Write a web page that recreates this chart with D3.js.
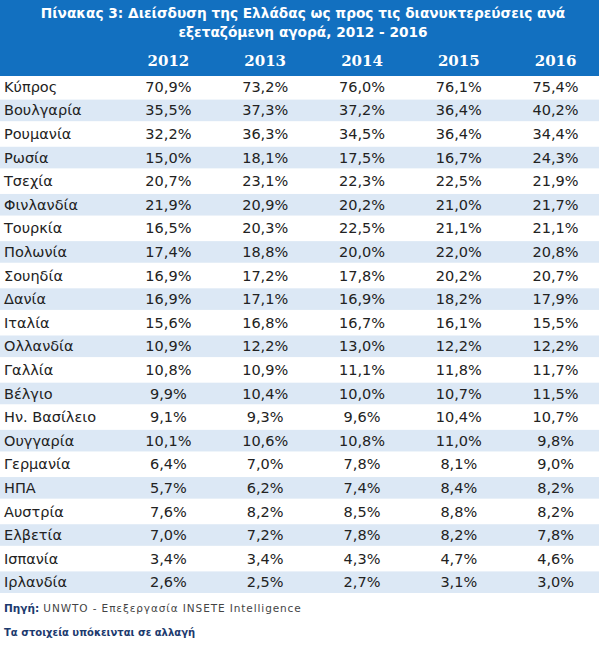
<!DOCTYPE html>
<html lang="el">
<head>
  <meta charset="UTF-8">
  <title>Πίνακας 3</title>
  <script src="https://cdnjs.cloudflare.com/ajax/libs/d3/7.8.5/d3.min.js"></script>
  <style>
    body { margin: 0; background: #fff; }
    svg { display: block; }
  </style>
</head>
<body>
  <script>
    const years = ["2012", "2013", "2014", "2015", "2016"];
    const countries = ["Κύπρος", "Βουλγαρία", "Ρουμανία", "Ρωσία", "Τσεχία", "Φινλανδία",
      "Τουρκία", "Πολωνία", "Σουηδία", "Δανία", "Ιταλία", "Ολλανδία", "Γαλλία", "Βέλγιο",
      "Ην. Βασίλειο", "Ουγγαρία", "Γερμανία", "ΗΠΑ", "Αυστρία", "Ελβετία", "Ισπανία", "Ιρλανδία"];
    const v2012 = [70.9, 35.5, 32.2, 15.0, 20.7, 21.9, 16.5, 17.4, 16.9, 16.9, 15.6, 10.9, 10.8, 9.9, 9.1, 10.1, 6.4, 5.7, 7.6, 7.0, 3.4, 2.6];
    const v2013 = [73.2, 37.3, 36.3, 18.1, 23.1, 20.9, 20.3, 18.8, 17.2, 17.1, 16.8, 12.2, 10.9, 10.4, 9.3, 10.6, 7.0, 6.2, 8.2, 7.2, 3.4, 2.5];
    const v2014 = [76.0, 37.2, 34.5, 17.5, 22.3, 20.2, 22.5, 20.0, 17.8, 16.9, 16.7, 13.0, 11.1, 10.0, 9.6, 10.8, 7.8, 7.4, 8.5, 7.8, 4.3, 2.7];
    const v2015 = [76.1, 36.4, 36.4, 16.7, 22.5, 21.0, 21.1, 22.0, 20.2, 18.2, 16.1, 12.2, 11.8, 10.7, 10.4, 11.0, 8.1, 8.4, 8.8, 8.2, 4.7, 3.1];
    const v2016 = [75.4, 40.2, 34.4, 24.3, 21.9, 21.7, 21.1, 20.8, 20.7, 17.9, 15.5, 12.2, 11.7, 11.5, 10.7, 9.8, 9.0, 8.2, 8.2, 7.8, 4.6, 3.0];
    const series = [v2012, v2013, v2014, v2015, v2016];

    const titleLines = ["Πίνακας 3: Διείσδυση της Ελλάδας ως προς τις διανυκτερεύσεις ανά",
                        "εξεταζόμενη αγορά, 2012 - 2016"];

    const w = 603, h = 650;
    const blue = "#1270c0";
    const light = "#dce8f5";

    const x = d3.scaleBand().domain(years).range([120, 604]);
    const y = d3.scaleBand().domain(countries).range([76, 595]);
    const fmt = v => v.toFixed(1).replace(".", ",") + "%";

    const svg = d3.select("body").append("svg")
      .attr("width", w)
      .attr("height", h);

    // header
    svg.append("rect")
      .attr("x", 0).attr("y", 0)
      .attr("width", 599).attr("height", 76)
      .attr("fill", blue);

    svg.selectAll(".title")
      .data(titleLines)
      .enter().append("text")
      .attr("class", "title")
      .attr("x", 303)
      .attr("y", (d, i) => 13 + i * 19)
      .attr("dy", "0.35em")
      .attr("text-anchor", "middle")
      .attr("fill", "#fff")
      .style("font-family", "'DejaVu Sans', Verdana, sans-serif")
      .style("font-weight", "bold")
      .style("font-size", "13.7px")
      .text(d => d);

    svg.selectAll(".year")
      .data(years)
      .enter().append("text")
      .attr("class", "year")
      .attr("x", d => x(d) + x.bandwidth() / 2)
      .attr("y", 61)
      .attr("dy", "0.35em")
      .attr("text-anchor", "middle")
      .attr("fill", "#fff")
      .style("font-family", "'DejaVu Serif', Georgia, serif")
      .style("font-weight", "bold")
      .style("font-size", "15px")
      .text(d => d);

    // row bands
    svg.selectAll(".band")
      .data(countries.filter((d, i) => i % 2 === 1))
      .enter().append("rect")
      .attr("class", "band")
      .attr("x", 0)
      .attr("y", d => y(d))
      .attr("width", 599)
      .attr("height", y.bandwidth() - 2)
      .attr("fill", light);

    const rows = svg.selectAll(".row")
      .data(countries)
      .enter().append("g")
      .attr("class", "row")
      .attr("transform", d => `translate(0,${y(d) + y.bandwidth() / 2 - 1})`)
      .style("font-family", "'DejaVu Sans', Verdana, sans-serif")
      .style("font-size", "14.5px")
      .attr("fill", "#222");

    rows.append("text")
      .attr("x", 4)
      .attr("dy", "0.35em")
      .text(d => d);

    rows.selectAll(".val")
      .data((d, i) => series.map((s, j) => ({ year: years[j], v: s[i] })))
      .enter().append("text")
      .attr("class", "val")
      .attr("x", d => x(d.year) + x.bandwidth() / 2)
      .attr("dy", "0.35em")
      .attr("text-anchor", "middle")
      .text(d => fmt(d.v));

    // footnotes
    const src = svg.append("text")
      .attr("x", 4)
      .attr("y", 608)
      .attr("dy", "0.35em")
      .style("font-family", "'DejaVu Sans', Verdana, sans-serif")
      .style("font-size", "10.5px");
    src.append("tspan")
      .attr("fill", "#1c3a6e")
      .style("font-weight", "bold")
      .text("Πηγή:");
    src.append("tspan")
      .attr("fill", "#444")
      .style("letter-spacing", "0.9px")
      .text(" UNWTO - Επεξεργασία INSETE Intelligence");

    svg.append("text")
      .attr("x", 4)
      .attr("y", 632)
      .attr("dy", "0.35em")
      .attr("fill", "#1c3a6e")
      .style("font-family", "'DejaVu Sans', Verdana, sans-serif")
      .style("font-weight", "bold")
      .style("font-size", "10px")
      .text("Τα στοιχεία υπόκεινται σε αλλαγή");
  </script>
</body>
</html>
